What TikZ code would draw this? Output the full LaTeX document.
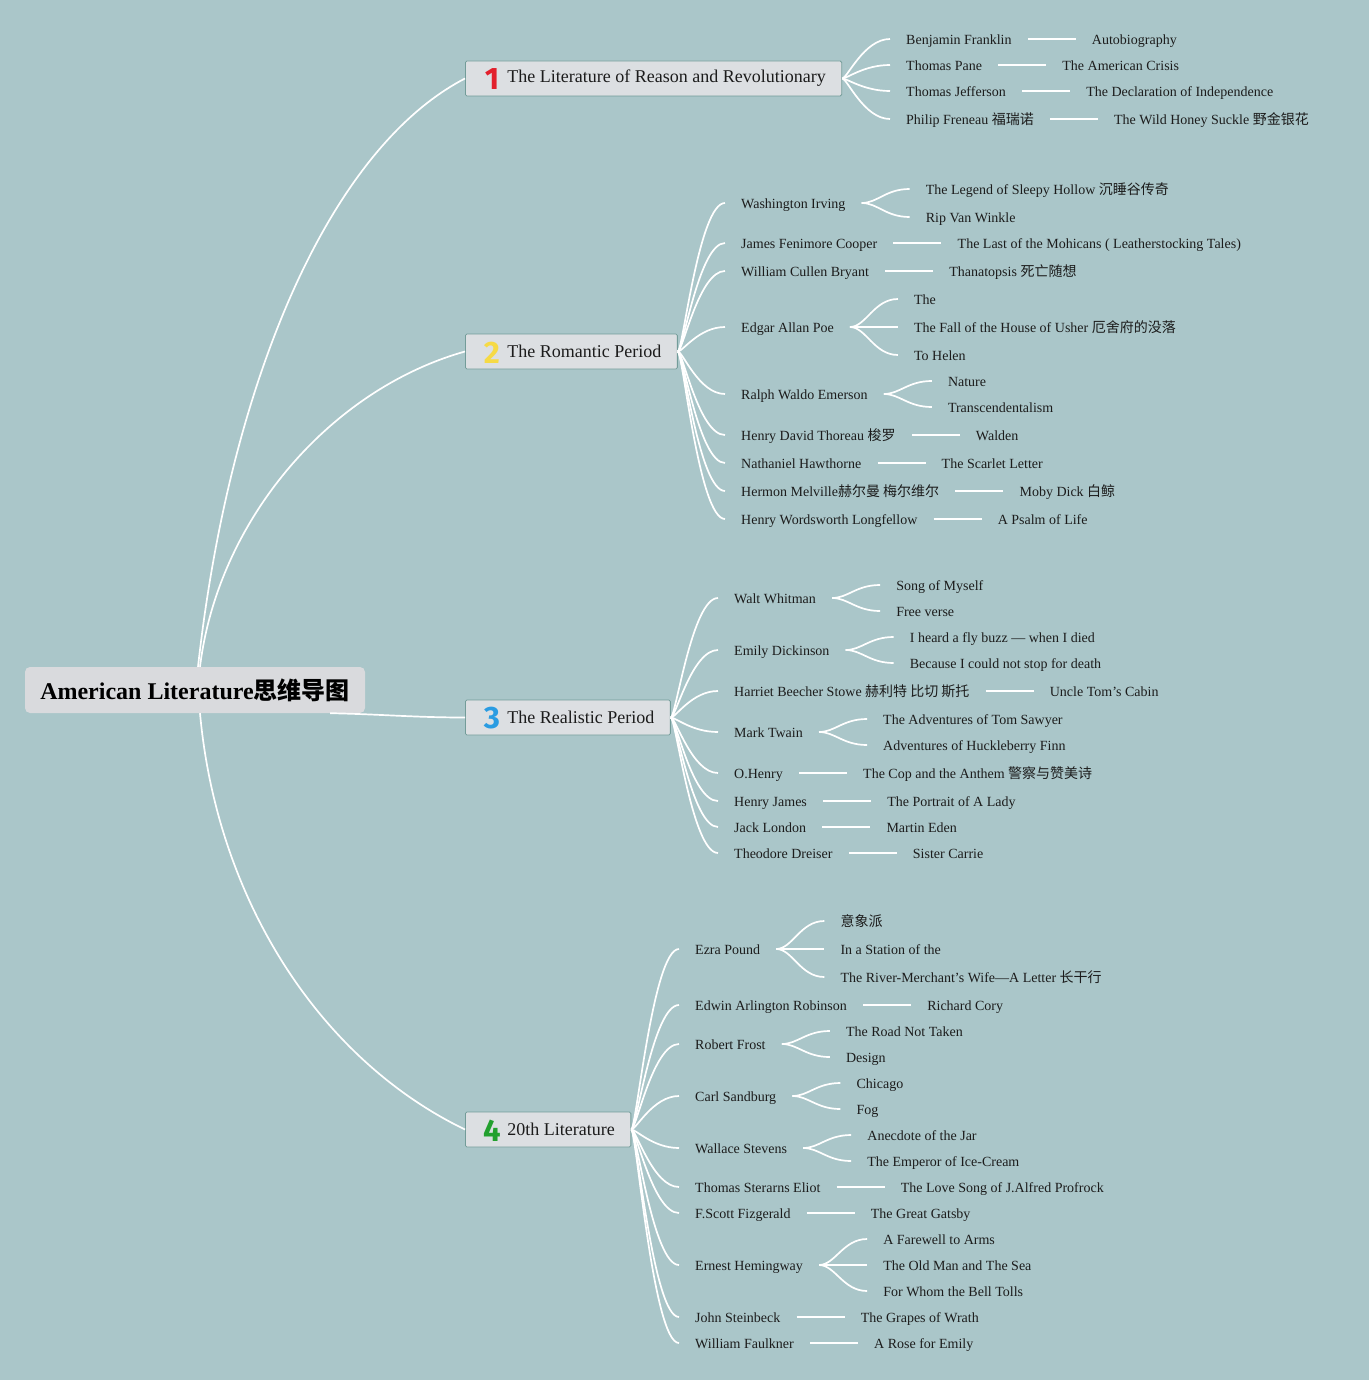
\documentclass[tikz,border=0pt]{standalone}
\usepackage{fontspec}
\setmainfont{Liberation Serif}
\newfontfamily\cjk{Noto Sans CJK SC}
\newfontfamily\numfont{Fira Sans}
\usetikzlibrary{positioning,calc}
\definecolor{bg}{HTML}{AAC6C9}
\definecolor{ink}{HTML}{1C1C1C}
\definecolor{boxfill}{HTML}{DCDFE2}
\definecolor{boxline}{HTML}{739C99}
\definecolor{rootfill}{HTML}{D9DADD}
\definecolor{cone}{HTML}{E2202C}
\definecolor{ctwo}{HTML}{F6DA45}
\definecolor{cthree}{HTML}{2A9CE2}
\definecolor{cfour}{HTML}{22A02E}
\newcommand\zh[1]{{\cjk #1}}
% child of a branch: parent, name, west x, y, text
\newcommand\kid[5]{%
  \node[leaf] (#2) at (#3,#4) {#5};
  \draw[wire] (#1.east) to[bfan] (#2.west);}
% work of an author: parent, name, y offset, text
\newcommand\work[4]{%
  \node[leaf] (#2) at ($(#1.east)+(48,#3)$) {#4};
  \draw[wire] (#1.east) to[kfan] (#2.west);}
\begin{document}
\begin{tikzpicture}[x=1pt,y=-1pt,
  edge/.style={draw=white, line width=1.7pt},
  wire/.style={draw=white, line width=1.7pt},
  bfan/.style={to path={.. controls +(5,0) and +(-26,0) .. (\tikztotarget)}},
  kfan/.style={to path={.. controls +(16,0) and +(-24,0) .. (\tikztotarget)}},
  leaf/.style={anchor=west, inner xsep=16pt, inner ysep=0pt, text height=11pt,
    text depth=0pt, font=\fontsize{14}{16}\selectfont, text=ink},
  branch/.style={anchor=west, draw=boxline, fill=boxfill, line width=0.8pt,
    rounded corners=1.5pt, minimum height=35pt, inner xsep=16pt, inner ysep=0pt,
    font=\fontsize{18}{20}\selectfont, text=ink},
  digit/.style={inner sep=0pt, font=\numfont\bfseries\fontsize{31}{31}\selectfont},
  rootbox/.style={fill=rootfill, rounded corners=5pt, minimum width=340pt,
    minimum height=46pt, inner sep=0pt, text=black,
    font=\bfseries\fontsize{24}{26}\selectfont}]
\useasboundingbox (0,0) rectangle (1369,1380);
\fill[bg] (0,0) rectangle (1369,1380);

% root and branches
\node[rootbox] (root) at (195,690) {American Literature\zh{思维导图}};
\node[branch] (b1) at (465,78.5) {\hspace*{26pt}The Literature of Reason and Revolutionary};
\node[branch] (b2) at (465,351.5) {\hspace*{26pt}The Romantic Period};
\node[branch] (b3) at (465,717.5) {\hspace*{26pt}The Realistic Period};
\node[branch] (b4) at (465,1129.5) {\hspace*{26pt}20th Literature};
\node[digit, text=cone] (d1) at ($(b1.west)+(27,1)$) {1};
\node[digit, text=ctwo] (d2) at ($(b2.west)+(27,1)$) {2};
\node[digit, text=cthree] (d3) at ($(b3.west)+(27,1)$) {3};
\node[digit, text=cfour] (d4) at ($(b4.west)+(27,1)$) {4};

\draw[edge] ([xshift=3pt]root.north) .. controls +(32,-287) and +(-135,70) .. (b1.west);
\draw[edge] ([xshift=5pt]root.north) .. controls +(18,-147) and +(-135,38) .. (b2.west);
\draw[edge] ([xshift=-35pt]root.south east) .. controls +(50,1) and +(-50,0) .. (b3.west);
\draw[edge] ([xshift=5pt]root.south) .. controls +(17,187) and +(-145,-70) .. (b4.west);

% branch 1
\kid{b1}{bf}{890}{39}{Benjamin Franklin} \work{bf}{bfa}{0}{Autobiography}
\kid{b1}{tp}{890}{65}{Thomas Pane} \work{tp}{tpa}{0}{The American Crisis}
\kid{b1}{tj}{890}{91}{Thomas Jefferson} \work{tj}{tja}{0}{The Declaration of Independence}
\kid{b1}{pf}{890}{119}{Philip Freneau \zh{福瑞诺}} \work{pf}{pfa}{0}{The Wild Honey Suckle \zh{野金银花}}

% branch 2
\kid{b2}{wi}{725}{203}{Washington Irving}
\work{wi}{wia}{-14}{The Legend of Sleepy Hollow \zh{沉睡谷传奇}}
\work{wi}{wib}{14}{Rip Van Winkle}
\kid{b2}{jc}{725}{243}{James Fenimore Cooper} \work{jc}{jca}{0}{The Last of the Mohicans ( Leatherstocking Tales)}
\kid{b2}{wb}{725}{271}{William Cullen Bryant} \work{wb}{wba}{0}{Thanatopsis \zh{死亡随想}}
\kid{b2}{ep}{725}{327}{Edgar Allan Poe}
\work{ep}{epa}{-28}{The}
\work{ep}{epb}{0}{The Fall of the House of Usher \zh{厄舍府的没落}}
\work{ep}{epc}{28}{To Helen}
\kid{b2}{re}{725}{394}{Ralph Waldo Emerson}
\work{re}{rea}{-13}{Nature}
\work{re}{reb}{13}{Transcendentalism}
\kid{b2}{ht}{725}{435}{Henry David Thoreau \zh{梭罗}} \work{ht}{hta}{0}{Walden}
\kid{b2}{nh}{725}{463}{Nathaniel Hawthorne} \work{nh}{nha}{0}{The Scarlet Letter}
\kid{b2}{hm}{725}{491}{Hermon Melville\zh{赫尔曼 梅尔维尔}} \work{hm}{hma}{0}{Moby Dick \zh{白鲸}}
\kid{b2}{hl}{725}{519}{Henry Wordsworth Longfellow} \work{hl}{hla}{0}{A Psalm of Life}

% branch 3
\kid{b3}{ww}{718}{598}{Walt Whitman}
\work{ww}{wwa}{-13}{Song of Myself}
\work{ww}{wwb}{13}{Free verse}
\kid{b3}{ed}{718}{650}{Emily Dickinson}
\work{ed}{eda}{-13}{I heard a fly buzz — when I died}
\work{ed}{edb}{13}{Because I could not stop for death}
\kid{b3}{hs}{718}{691}{Harriet Beecher Stowe \zh{赫利特 比切 斯托}} \work{hs}{hsa}{0}{Uncle Tom’s Cabin}
\kid{b3}{mt}{718}{732}{Mark Twain}
\work{mt}{mta}{-13}{The Adventures of Tom Sawyer}
\work{mt}{mtb}{13}{Adventures of Huckleberry Finn}
\kid{b3}{oh}{718}{773}{O.Henry} \work{oh}{oha}{0}{The Cop and the Anthem \zh{警察与赞美诗}}
\kid{b3}{hj}{718}{801}{Henry James} \work{hj}{hja}{0}{The Portrait of A Lady}
\kid{b3}{jl}{718}{827}{Jack London} \work{jl}{jla}{0}{Martin Eden}
\kid{b3}{td}{718}{853}{Theodore Dreiser} \work{td}{tda}{0}{Sister Carrie}

% branch 4
\kid{b4}{ez}{679}{949}{Ezra Pound}
\work{ez}{eza}{-28}{\zh{意象派}}
\work{ez}{ezb}{0}{In a Station of the}
\work{ez}{ezc}{28}{The River-Merchant’s Wife—A Letter \zh{长干行}}
\kid{b4}{ea}{679}{1005}{Edwin Arlington Robinson} \work{ea}{eaa}{0}{Richard Cory}
\kid{b4}{rf}{679}{1044}{Robert Frost}
\work{rf}{rfa}{-13}{The Road Not Taken}
\work{rf}{rfb}{13}{Design}
\kid{b4}{cs}{679}{1096}{Carl Sandburg}
\work{cs}{csa}{-13}{Chicago}
\work{cs}{csb}{13}{Fog}
\kid{b4}{ws}{679}{1148}{Wallace Stevens}
\work{ws}{wsa}{-13}{Anecdote of the Jar}
\work{ws}{wsb}{13}{The Emperor of Ice-Cream}
\kid{b4}{te}{679}{1187}{Thomas Sterarns Eliot} \work{te}{tea}{0}{The Love Song of J.Alfred Profrock}
\kid{b4}{fs}{679}{1213}{F.Scott Fizgerald} \work{fs}{fsa}{0}{The Great Gatsby}
\kid{b4}{eh}{679}{1265}{Ernest Hemingway}
\work{eh}{eha}{-26}{A Farewell to Arms}
\work{eh}{ehb}{0}{The Old Man and The Sea}
\work{eh}{ehc}{26}{For Whom the Bell Tolls}
\kid{b4}{js}{679}{1317}{John Steinbeck} \work{js}{jsa}{0}{The Grapes of Wrath}
\kid{b4}{wf}{679}{1343}{William Faulkner} \work{wf}{wfa}{0}{A Rose for Emily}
\end{tikzpicture}
\end{document}
